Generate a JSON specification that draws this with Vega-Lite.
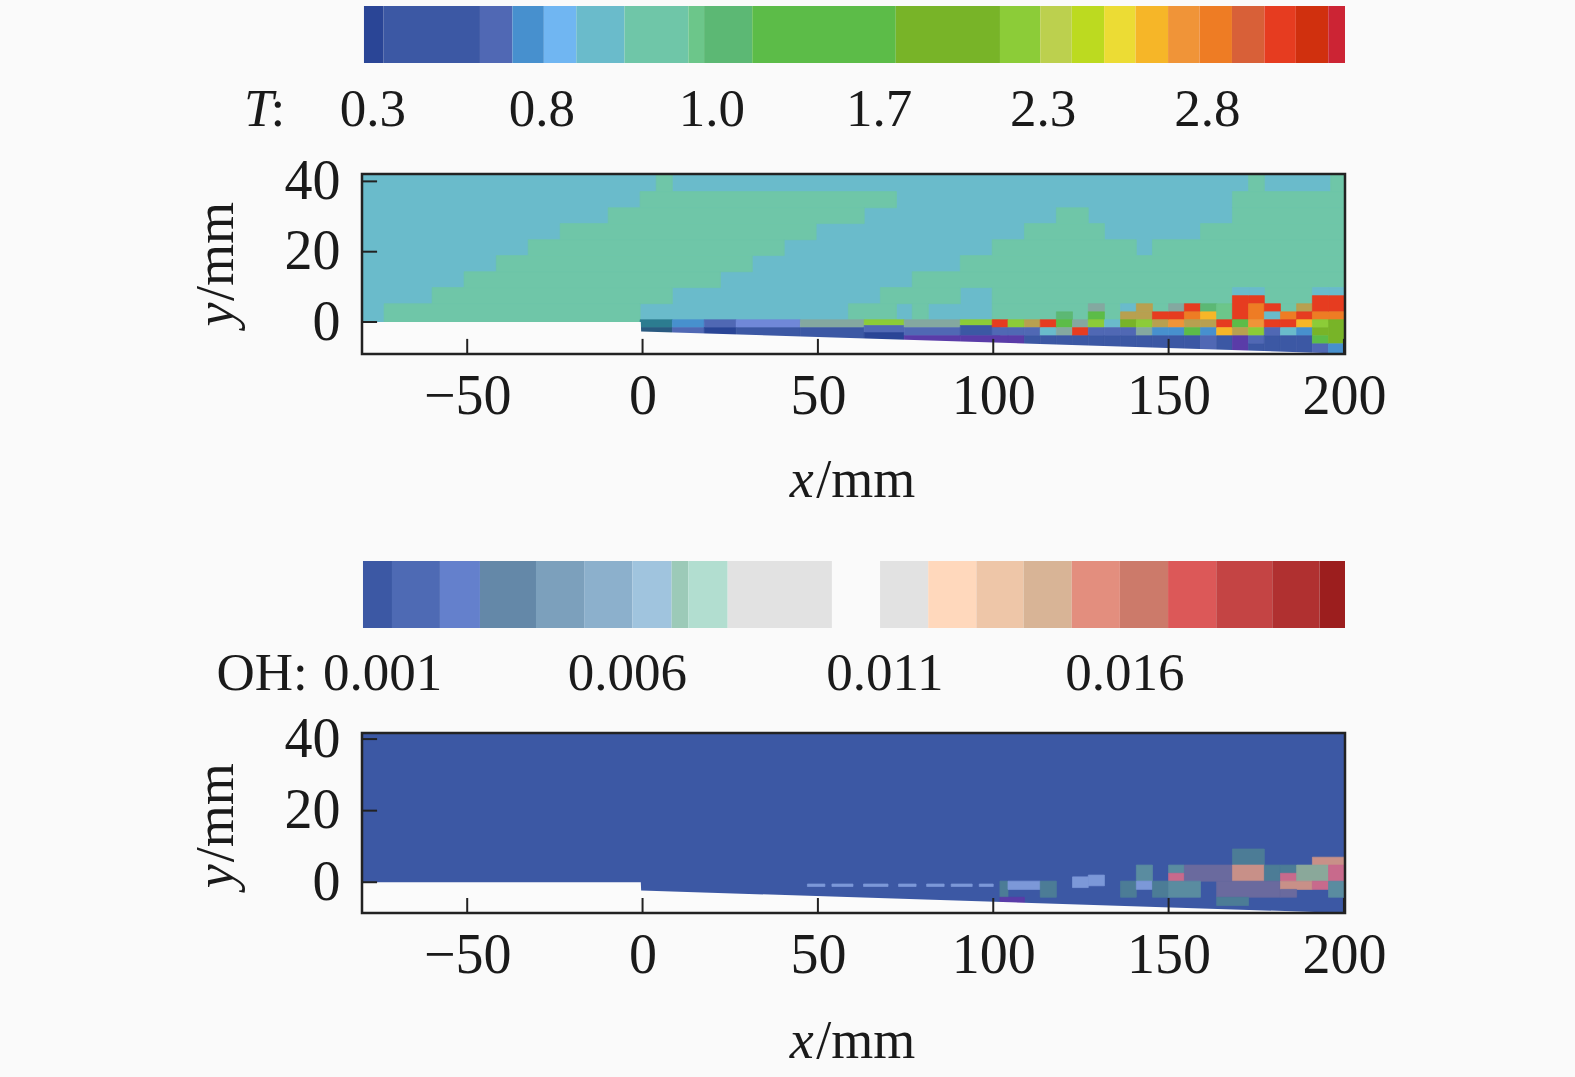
{"$schema":"https://vega.github.io/schema/vega-lite/v6.json","background":"#fafafa","padding":{"left":190,"top":6,"right":195,"bottom":12},"spacing":53,"resolve":{"scale":{"color":"independent","stroke":"independent"}},"config":{"view":{"stroke":null},"text":{"font":"Liberation Serif"},"axis":{"grid":false,"domain":false,"ticks":false,"title":null,"labelFont":"Liberation Serif","labelFontSize":56,"labelColor":"#1a1a1a","zindex":1,"labelFlush":false,"labelOverlap":false,"labelBound":false}},"datasets":{"Tbar":[{"start":0.2,"end":2.2,"level":"1"},{"start":2.2,"end":12,"level":"2"},{"start":12,"end":15.3,"level":"3"},{"start":15.3,"end":18.5,"level":"4"},{"start":18.5,"end":21.8,"level":"5"},{"start":21.8,"end":26.7,"level":"6"},{"start":26.7,"end":33.2,"level":"7"},{"start":33.2,"end":34.8,"level":"8"},{"start":34.8,"end":39.7,"level":"9"},{"start":39.7,"end":54.3,"level":"10"},{"start":54.3,"end":64.9,"level":"11"},{"start":64.9,"end":69,"level":"12"},{"start":69,"end":72.2,"level":"13"},{"start":72.2,"end":75.5,"level":"14"},{"start":75.5,"end":78.7,"level":"15"},{"start":78.7,"end":82,"level":"16"},{"start":82,"end":85.2,"level":"17"},{"start":85.2,"end":88.5,"level":"18"},{"start":88.5,"end":91.8,"level":"19"},{"start":91.8,"end":95,"level":"20"},{"start":95,"end":98.3,"level":"21"},{"start":98.3,"end":100,"level":"22"}],"Obar":[{"start":0.1,"end":3.05,"level":"1"},{"start":3.05,"end":7.93,"level":"2"},{"start":7.93,"end":12,"level":"3"},{"start":12,"end":17.7,"level":"4"},{"start":17.7,"end":22.6,"level":"5"},{"start":22.6,"end":27.5,"level":"6"},{"start":27.5,"end":31.5,"level":"7"},{"start":31.5,"end":33.2,"level":"8"},{"start":33.2,"end":37.2,"level":"9"},{"start":37.2,"end":47.8,"level":"10"},{"start":52.7,"end":57.6,"level":"10"},{"start":57.6,"end":62.5,"level":"11"},{"start":62.5,"end":67.3,"level":"12"},{"start":67.3,"end":72.2,"level":"13"},{"start":72.2,"end":77.1,"level":"14"},{"start":77.1,"end":82,"level":"15"},{"start":82,"end":86.9,"level":"16"},{"start":86.9,"end":92.6,"level":"17"},{"start":92.6,"end":97.4,"level":"18"},{"start":97.4,"end":100,"level":"19"}],"Tcells":[{"x0":-80,"x1":200.3,"y0":0,"y1":42,"level":"6"},{"x0":3.9,"x1":8.5,"y0":37.1,"y1":42,"level":"7"},{"x0":172.8,"x1":177.3,"y0":37.1,"y1":42,"level":"7"},{"x0":196.2,"x1":200.3,"y0":37.1,"y1":42,"level":"7"},{"x0":-0.7,"x1":72.4,"y0":32.5,"y1":37.1,"level":"7"},{"x0":168.2,"x1":200.3,"y0":32.5,"y1":37.1,"level":"7"},{"x0":-9.8,"x1":63.2,"y0":28,"y1":32.5,"level":"7"},{"x0":118,"x1":127.1,"y0":28,"y1":32.5,"level":"7"},{"x0":168.2,"x1":200.3,"y0":28,"y1":32.5,"level":"7"},{"x0":-23.5,"x1":49.5,"y0":23.4,"y1":28,"level":"7"},{"x0":108.9,"x1":131.7,"y0":23.4,"y1":28,"level":"7"},{"x0":159.1,"x1":200.3,"y0":23.4,"y1":28,"level":"7"},{"x0":-32.6,"x1":40.4,"y0":18.9,"y1":23.4,"level":"7"},{"x0":99.7,"x1":140.8,"y0":18.9,"y1":23.4,"level":"7"},{"x0":145.4,"x1":200.3,"y0":18.9,"y1":23.4,"level":"7"},{"x0":-41.7,"x1":31.3,"y0":14.3,"y1":18.9,"level":"7"},{"x0":90.6,"x1":200.3,"y0":14.3,"y1":18.9,"level":"7"},{"x0":-50.9,"x1":22.2,"y0":9.8,"y1":14.3,"level":"7"},{"x0":76.9,"x1":200.3,"y0":9.8,"y1":14.3,"level":"7"},{"x0":-60,"x1":8.5,"y0":5.2,"y1":9.8,"level":"7"},{"x0":67.8,"x1":90.6,"y0":5.2,"y1":9.8,"level":"7"},{"x0":99.7,"x1":200.3,"y0":5.2,"y1":9.8,"level":"7"},{"x0":-73.7,"x1":-0.7,"y0":0,"y1":5.2,"level":"7"},{"x0":58.7,"x1":72.4,"y0":0,"y1":5.2,"level":"7"},{"x0":76.9,"x1":81.5,"y0":0,"y1":5.2,"level":"7"},{"x0":99.7,"x1":200.3,"y0":0,"y1":5.2,"level":"7"},{"x0":-0.7,"x1":8.5,"y0":-1.6,"y1":0.65,"level":"a"},{"x0":-0.7,"x1":8.5,"y0":-9,"y1":-1.6,"level":"f"},{"x0":8.5,"x1":17.6,"y0":-1.6,"y1":0.65,"level":"4"},{"x0":8.5,"x1":17.6,"y0":-9,"y1":-1.6,"level":"3"},{"x0":17.6,"x1":26.7,"y0":-1.6,"y1":0.65,"level":"3"},{"x0":17.6,"x1":26.7,"y0":-9,"y1":-1.6,"level":"1"},{"x0":26.7,"x1":45,"y0":-1.6,"y1":0.65,"level":"e"},{"x0":26.7,"x1":45,"y0":-9,"y1":-1.6,"level":"2"},{"x0":45,"x1":63.2,"y0":-1.6,"y1":0.65,"level":"b"},{"x0":45,"x1":63.2,"y0":-9,"y1":-1.6,"level":"2"},{"x0":63.2,"x1":74.6,"y0":-1,"y1":0.65,"level":"12"},{"x0":63.2,"x1":74.6,"y0":-3,"y1":-1,"level":"3"},{"x0":63.2,"x1":74.6,"y0":-9,"y1":-3,"level":"1"},{"x0":74.6,"x1":90.6,"y0":-1.6,"y1":0.65,"level":"b"},{"x0":74.6,"x1":90.6,"y0":-3.9,"y1":-1.6,"level":"3"},{"x0":74.6,"x1":90.6,"y0":-9,"y1":-3.9,"level":"c"},{"x0":90.6,"x1":101.9,"y0":-1,"y1":0.65,"level":"12"},{"x0":90.6,"x1":101.9,"y0":-3.9,"y1":-1,"level":"2"},{"x0":90.6,"x1":101.9,"y0":-9,"y1":-3.9,"level":"c"},{"x0":99.7,"x1":104.2,"y0":-1.6,"y1":0.65,"level":"20"},{"x0":99.7,"x1":104.2,"y0":-3.9,"y1":-1.6,"level":"3"},{"x0":99.7,"x1":104.2,"y0":-9,"y1":-3.9,"level":"c"},{"x0":104.2,"x1":108.9,"y0":-1.6,"y1":0.65,"level":"12"},{"x0":104.2,"x1":108.9,"y0":-3.9,"y1":-1.6,"level":"3"},{"x0":104.2,"x1":108.9,"y0":-9,"y1":-3.9,"level":"c"},{"x0":108.9,"x1":113.4,"y0":-1.6,"y1":0.65,"level":"d"},{"x0":108.9,"x1":113.4,"y0":-3.9,"y1":-1.6,"level":"3"},{"x0":108.9,"x1":113.4,"y0":-9,"y1":-3.9,"level":"2"},{"x0":113.4,"x1":118,"y0":-1.6,"y1":0.65,"level":"20"},{"x0":113.4,"x1":118,"y0":-3.9,"y1":-1.6,"level":"6"},{"x0":113.4,"x1":118,"y0":-9,"y1":-3.9,"level":"2"},{"x0":118,"x1":122.6,"y0":0.65,"y1":2.9,"level":"9"},{"x0":118,"x1":122.6,"y0":-1.6,"y1":0.65,"level":"10"},{"x0":118,"x1":122.6,"y0":-3.9,"y1":-1.6,"level":"b"},{"x0":118,"x1":122.6,"y0":-9,"y1":-3.9,"level":"2"},{"x0":122.6,"x1":127.1,"y0":-1.6,"y1":0.65,"level":"b"},{"x0":122.6,"x1":127.1,"y0":-3.9,"y1":-1.6,"level":"20"},{"x0":122.6,"x1":127.1,"y0":-9,"y1":-3.9,"level":"2"},{"x0":127.1,"x1":131.7,"y0":2.9,"y1":5.2,"level":"b"},{"x0":127.1,"x1":131.7,"y0":0.65,"y1":2.9,"level":"10"},{"x0":127.1,"x1":131.7,"y0":-1.6,"y1":0.65,"level":"12"},{"x0":127.1,"x1":131.7,"y0":-3.9,"y1":-1.6,"level":"3"},{"x0":127.1,"x1":131.7,"y0":-9,"y1":-3.9,"level":"2"},{"x0":131.7,"x1":136.3,"y0":-1.6,"y1":0.65,"level":"6"},{"x0":131.7,"x1":136.3,"y0":-3.9,"y1":-1.6,"level":"3"},{"x0":131.7,"x1":136.3,"y0":-9,"y1":-3.9,"level":"2"},{"x0":136.3,"x1":140.8,"y0":2.9,"y1":5.2,"level":"6"},{"x0":136.3,"x1":140.8,"y0":0.65,"y1":2.9,"level":"d"},{"x0":136.3,"x1":140.8,"y0":-1.6,"y1":0.65,"level":"11"},{"x0":136.3,"x1":140.8,"y0":-3.9,"y1":-1.6,"level":"3"},{"x0":136.3,"x1":140.8,"y0":-9,"y1":-3.9,"level":"2"},{"x0":140.8,"x1":145.4,"y0":2.9,"y1":5.2,"level":"d"},{"x0":140.8,"x1":145.4,"y0":0.65,"y1":2.9,"level":"d"},{"x0":140.8,"x1":145.4,"y0":-1.6,"y1":0.65,"level":"12"},{"x0":140.8,"x1":145.4,"y0":-3.9,"y1":-1.6,"level":"b"},{"x0":140.8,"x1":145.4,"y0":-9,"y1":-3.9,"level":"2"},{"x0":145.4,"x1":150,"y0":0.65,"y1":2.9,"level":"20"},{"x0":145.4,"x1":150,"y0":-1.6,"y1":0.65,"level":"d"},{"x0":145.4,"x1":150,"y0":-3.9,"y1":-1.6,"level":"4"},{"x0":145.4,"x1":150,"y0":-9,"y1":-3.9,"level":"2"},{"x0":150,"x1":154.5,"y0":2.9,"y1":5.2,"level":"b"},{"x0":150,"x1":154.5,"y0":0.65,"y1":2.9,"level":"20"},{"x0":150,"x1":154.5,"y0":-1.6,"y1":0.65,"level":"17"},{"x0":150,"x1":154.5,"y0":-3.9,"y1":-1.6,"level":"4"},{"x0":150,"x1":154.5,"y0":-9,"y1":-3.9,"level":"2"},{"x0":154.5,"x1":159.1,"y0":2.9,"y1":5.2,"level":"20"},{"x0":154.5,"x1":159.1,"y0":0.65,"y1":2.9,"level":"18"},{"x0":154.5,"x1":159.1,"y0":-1.6,"y1":0.65,"level":"d"},{"x0":154.5,"x1":159.1,"y0":-3.9,"y1":-1.6,"level":"10"},{"x0":154.5,"x1":159.1,"y0":-9,"y1":-3.9,"level":"2"},{"x0":159.1,"x1":163.7,"y0":2.9,"y1":5.2,"level":"9"},{"x0":159.1,"x1":163.7,"y0":0.65,"y1":2.9,"level":"16"},{"x0":159.1,"x1":163.7,"y0":-1.6,"y1":0.65,"level":"d"},{"x0":159.1,"x1":163.7,"y0":-3.9,"y1":-1.6,"level":"4"},{"x0":159.1,"x1":163.7,"y0":-9,"y1":-3.9,"level":"3"},{"x0":163.7,"x1":168.2,"y0":0.65,"y1":5.2,"level":"8"},{"x0":163.7,"x1":168.2,"y0":-1.6,"y1":0.65,"level":"20"},{"x0":163.7,"x1":168.2,"y0":-3.9,"y1":-1.6,"level":"16"},{"x0":163.7,"x1":168.2,"y0":-9,"y1":-3.9,"level":"2"},{"x0":168.2,"x1":172.8,"y0":7.5,"y1":9.8,"level":"6"},{"x0":168.2,"x1":172.8,"y0":0.65,"y1":7.5,"level":"20"},{"x0":168.2,"x1":172.8,"y0":-1.6,"y1":0.65,"level":"10"},{"x0":168.2,"x1":172.8,"y0":-3.9,"y1":-1.6,"level":"d"},{"x0":168.2,"x1":172.8,"y0":-9,"y1":-3.9,"level":"c"},{"x0":172.8,"x1":177.3,"y0":7.5,"y1":9.8,"level":"6"},{"x0":172.8,"x1":177.3,"y0":5.2,"y1":7.5,"level":"20"},{"x0":172.8,"x1":177.3,"y0":0.65,"y1":5.2,"level":"18"},{"x0":172.8,"x1":177.3,"y0":-1.6,"y1":0.65,"level":"17"},{"x0":172.8,"x1":177.3,"y0":-3.9,"y1":-1.6,"level":"12"},{"x0":172.8,"x1":177.3,"y0":-6.2,"y1":-3.9,"level":"3"},{"x0":172.8,"x1":177.3,"y0":-9,"y1":-6.2,"level":"2"},{"x0":177.3,"x1":181.9,"y0":2.9,"y1":5.2,"level":"20"},{"x0":177.3,"x1":181.9,"y0":0.65,"y1":2.9,"level":"6"},{"x0":177.3,"x1":181.9,"y0":-1.6,"y1":0.65,"level":"20"},{"x0":177.3,"x1":181.9,"y0":-3.9,"y1":-1.6,"level":"3"},{"x0":177.3,"x1":181.9,"y0":-9,"y1":-3.9,"level":"2"},{"x0":181.9,"x1":186.5,"y0":0.65,"y1":2.9,"level":"18"},{"x0":181.9,"x1":186.5,"y0":-1.6,"y1":0.65,"level":"20"},{"x0":181.9,"x1":186.5,"y0":-3.9,"y1":-1.6,"level":"6"},{"x0":181.9,"x1":186.5,"y0":-9,"y1":-3.9,"level":"2"},{"x0":186.5,"x1":191,"y0":2.9,"y1":5.2,"level":"d"},{"x0":186.5,"x1":191,"y0":0.65,"y1":2.9,"level":"20"},{"x0":186.5,"x1":191,"y0":-1.6,"y1":0.65,"level":"16"},{"x0":186.5,"x1":191,"y0":-3.9,"y1":-1.6,"level":"4"},{"x0":186.5,"x1":191,"y0":-9,"y1":-3.9,"level":"2"},{"x0":191,"x1":195.6,"y0":7.5,"y1":9.8,"level":"6"},{"x0":191,"x1":195.6,"y0":2.9,"y1":7.5,"level":"20"},{"x0":191,"x1":195.6,"y0":0.65,"y1":2.9,"level":"18"},{"x0":191,"x1":195.6,"y0":-1.6,"y1":0.65,"level":"12"},{"x0":191,"x1":195.6,"y0":-3.9,"y1":-1.6,"level":"11"},{"x0":191,"x1":195.6,"y0":-6.2,"y1":-3.9,"level":"10"},{"x0":191,"x1":195.6,"y0":-9,"y1":-6.2,"level":"3"},{"x0":195.6,"x1":200.3,"y0":7.5,"y1":9.8,"level":"6"},{"x0":195.6,"x1":200.3,"y0":2.9,"y1":7.5,"level":"20"},{"x0":195.6,"x1":200.3,"y0":0.65,"y1":2.9,"level":"18"},{"x0":195.6,"x1":200.3,"y0":-6.2,"y1":0.65,"level":"11"},{"x0":195.6,"x1":200.3,"y0":-9,"y1":-6.2,"level":"4"}],"Ocells":[{"x0":-80,"x1":200.3,"y0":-8.6,"y1":41.7,"level":"1"},{"x0":47,"x1":52,"y0":-1.2,"y1":-0.5,"level":"g"},{"x0":54,"x1":60,"y0":-1.2,"y1":-0.5,"level":"g"},{"x0":63,"x1":70,"y0":-1.2,"y1":-0.5,"level":"g"},{"x0":73,"x1":78,"y0":-1.2,"y1":-0.5,"level":"g"},{"x0":81,"x1":86,"y0":-1.2,"y1":-0.5,"level":"g"},{"x0":88,"x1":94,"y0":-1.2,"y1":-0.5,"level":"g"},{"x0":96,"x1":100,"y0":-1.2,"y1":-0.5,"level":"g"},{"x0":168.2,"x1":177.3,"y0":4.8,"y1":9.3,"level":"h"},{"x0":191,"x1":200.3,"y0":4.8,"y1":7,"level":"d"},{"x0":140.8,"x1":145.4,"y0":0.3,"y1":4.8,"level":"e"},{"x0":150,"x1":154.5,"y0":2.5,"y1":4.8,"level":"e"},{"x0":150,"x1":154.5,"y0":0.3,"y1":2.5,"level":"c"},{"x0":154.5,"x1":168.2,"y0":0.3,"y1":4.8,"level":"a"},{"x0":168.2,"x1":177.3,"y0":0.3,"y1":4.8,"level":"d"},{"x0":177.3,"x1":181.9,"y0":0.3,"y1":4.8,"level":"h"},{"x0":181.9,"x1":186.5,"y0":2.5,"y1":4.8,"level":"h"},{"x0":181.9,"x1":186.5,"y0":0.3,"y1":2.5,"level":"c"},{"x0":186.5,"x1":195.6,"y0":0.3,"y1":4.8,"level":"f"},{"x0":195.6,"x1":200.3,"y0":0.3,"y1":4.8,"level":"c"},{"x0":101.9,"x1":104.2,"y0":-4.2,"y1":0.3,"level":"h"},{"x0":104.2,"x1":113.4,"y0":-2,"y1":0.3,"level":"g"},{"x0":113.4,"x1":118,"y0":-4.2,"y1":0.3,"level":"h"},{"x0":122.6,"x1":127.1,"y0":-1.5,"y1":1.5,"level":"g"},{"x0":127.1,"x1":131.7,"y0":-1,"y1":2,"level":"g"},{"x0":136.3,"x1":140.8,"y0":-4.2,"y1":0.3,"level":"h"},{"x0":140.8,"x1":145.4,"y0":-2,"y1":0.3,"level":"g"},{"x0":145.4,"x1":150,"y0":-4.2,"y1":0.3,"level":"h"},{"x0":150,"x1":159.1,"y0":-4.2,"y1":0.3,"level":"e"},{"x0":163.7,"x1":181.9,"y0":-4.2,"y1":0.3,"level":"a"},{"x0":181.9,"x1":191,"y0":-2,"y1":0.3,"level":"d"},{"x0":181.9,"x1":186.5,"y0":-4.2,"y1":-2,"level":"a"},{"x0":191,"x1":195.6,"y0":-2,"y1":0.3,"level":"c"},{"x0":195.6,"x1":200.3,"y0":-4.2,"y1":0.3,"level":"e"},{"x0":163.7,"x1":172.8,"y0":-6.5,"y1":-4.2,"level":"h"},{"x0":101.9,"x1":108.9,"y0":-6.5,"y1":-4.2,"level":"i"}]},"vconcat":[{"bounds":"flush","spacing":111,"vconcat":[{"width":983,"height":57,"layer":[{"data":{"name":"Tbar"},"mark":"rect","encoding":{"x":{"field":"start","type":"quantitative","scale":{"domain":[0,100]},"axis":null},"x2":{"field":"end"},"y":{"datum":0,"type":"quantitative","scale":{"domain":[0,1]},"axis":null},"y2":{"datum":1},"color":{"field":"level","type":"nominal","legend":null,"scale":{"domain":["1","2","3","4","5","6","7","8","9","10","11","12","13","14","15","16","17","18","19","20","21","22","a","b","c","d","e","f"],"range":["#2A4596","#3C58A4","#5068B4","#4790CE","#70B6F2","#6ABBCB","#6FC6A8","#6CC68A","#5CB874","#5CBC48","#78B428","#8CCC38","#BCD04E","#BCDA20","#ECDC34","#F6B628","#F09438","#EE7C24","#D86038","#E63C20","#D0300E","#CC2434","#2C7C90","#84A8A0","#5A3CA8","#B8A050","#7088D8","#2A5A80"]}}}},{"data":{"values":[{"start":1.1,"label":"0.3"},{"start":18.3,"label":"0.8"},{"start":35.6,"label":"1.0"},{"start":52.6,"label":"1.7"},{"start":69.3,"label":"2.3"},{"start":86,"label":"2.8"}]},"mark":{"type":"text","fontSize":53,"color":"#1a1a1a","baseline":"alphabetic","align":"center"},"encoding":{"x":{"field":"start","type":"quantitative","axis":null},"y":{"datum":-1.1,"type":"quantitative","axis":null},"text":{"field":"label"}}},{"data":{"values":[{"start":-12,"label":"T"}]},"mark":{"type":"text","fontSize":53,"fontStyle":"italic","color":"#1a1a1a","baseline":"alphabetic","align":"left"},"encoding":{"x":{"field":"start","type":"quantitative","axis":null},"y":{"datum":-1.1,"type":"quantitative","axis":null},"text":{"field":"label"}}},{"data":{"values":[{"start":-9.3,"label":":"}]},"mark":{"type":"text","fontSize":53,"color":"#1a1a1a","baseline":"alphabetic","align":"left"},"encoding":{"x":{"field":"start","type":"quantitative","axis":null},"y":{"datum":-1.1,"type":"quantitative","axis":null},"text":{"field":"label"}}}]},{"width":983,"height":180,"encoding":{"x":{"field":"x0","type":"quantitative","scale":{"domain":[-80,200.3],"nice":false,"zero":false},"axis":{"values":[-50,0,50,100,150,200],"labelPadding":15}},"y":{"field":"y0","type":"quantitative","scale":{"domain":[-9.1,42.1],"nice":false,"zero":false},"axis":{"values":[0,20,40],"labelPadding":22}}},"layer":[{"data":{"name":"Tcells"},"mark":{"type":"rect","strokeWidth":0.7},"encoding":{"x2":{"field":"x1"},"y2":{"field":"y1"},"color":{"field":"level","type":"nominal","legend":null,"scale":{"domain":["1","2","3","4","5","6","7","8","9","10","11","12","13","14","15","16","17","18","19","20","21","22","a","b","c","d","e","f"],"range":["#2A4596","#3C58A4","#5068B4","#4790CE","#70B6F2","#6ABBCB","#6FC6A8","#6CC68A","#5CB874","#5CBC48","#78B428","#8CCC38","#BCD04E","#BCDA20","#ECDC34","#F6B628","#F09438","#EE7C24","#D86038","#E63C20","#D0300E","#CC2434","#2C7C90","#84A8A0","#5A3CA8","#B8A050","#7088D8","#2A5A80"]}},"stroke":{"field":"level","type":"nominal","legend":null,"scale":{"domain":["1","2","3","4","5","6","7","8","9","10","11","12","13","14","15","16","17","18","19","20","21","22","a","b","c","d","e","f"],"range":["#2A4596","#3C58A4","#5068B4","#4790CE","#70B6F2","#6ABBCB","#6FC6A8","#6CC68A","#5CB874","#5CBC48","#78B428","#8CCC38","#BCD04E","#BCDA20","#ECDC34","#F6B628","#F09438","#EE7C24","#D86038","#E63C20","#D0300E","#CC2434","#2C7C90","#84A8A0","#5A3CA8","#B8A050","#7088D8","#2A5A80"]}}}},{"data":{"values":[{"x0":-80,"y0":0,"y1":-9.1},{"x0":-0.5,"y0":0,"y1":-9.1},{"x0":-0.4,"y0":-2.7,"y1":-9.1},{"x0":200.3,"y0":-9,"y1":-9.1}]},"mark":{"type":"area","color":"#fbfbfb"},"encoding":{"y2":{"field":"y1"}}},{"data":{"values":[{"x0":-50,"y0":-9.1,"y1":-4.8},{"x0":0,"y0":-9.1,"y1":-4.8},{"x0":50,"y0":-9.1,"y1":-4.8},{"x0":100,"y0":-9.1,"y1":-4.8},{"x0":150,"y0":-9.1,"y1":-4.8},{"x0":200,"y0":-9.1,"y1":-4.8}]},"mark":{"type":"rule","color":"#222222","strokeWidth":2},"encoding":{"y2":{"field":"y1"}}},{"data":{"values":[{"x0":-80,"x1":-75.7,"y0":0},{"x0":-80,"x1":-75.7,"y0":20},{"x0":-80,"x1":-75.7,"y0":40}]},"mark":{"type":"rule","color":"#222222","strokeWidth":2},"encoding":{"x2":{"field":"x1"}}},{"data":{"values":[{"x0":-80,"x1":200.3,"y0":-9.1,"y1":42.1}]},"mark":{"type":"rect","filled":false,"stroke":"#222222","strokeWidth":2.5},"encoding":{"x2":{"field":"x1"},"y2":{"field":"y1"}}},{"data":{"values":[{"x0":42,"y0":-49.7,"label":"x"}]},"mark":{"type":"text","fontSize":54,"fontStyle":"italic","color":"#1a1a1a","baseline":"alphabetic","align":"left"},"encoding":{"text":{"field":"label"}}},{"data":{"values":[{"x0":49.5,"y0":-49.7,"label":"/mm"}]},"mark":{"type":"text","fontSize":54,"color":"#1a1a1a","baseline":"alphabetic","align":"left"},"encoding":{"text":{"field":"label"}}},{"data":{"values":[{"x0":-116.7,"y0":-1.3,"label":"y"}]},"mark":{"type":"text","fontSize":54,"fontStyle":"italic","color":"#1a1a1a","baseline":"alphabetic","align":"left","angle":270},"encoding":{"text":{"field":"label"}}},{"data":{"values":[{"x0":-116.7,"y0":6,"label":"/mm"}]},"mark":{"type":"text","fontSize":54,"color":"#1a1a1a","baseline":"alphabetic","align":"left","angle":270},"encoding":{"text":{"field":"label"}}}]}]},{"bounds":"flush","spacing":105,"vconcat":[{"width":983,"height":67,"layer":[{"data":{"name":"Obar"},"mark":"rect","encoding":{"x":{"field":"start","type":"quantitative","scale":{"domain":[0,100]},"axis":null},"x2":{"field":"end"},"y":{"datum":0,"type":"quantitative","scale":{"domain":[0,1]},"axis":null},"y2":{"datum":1},"color":{"field":"level","type":"nominal","legend":null,"scale":{"domain":["1","2","3","4","5","6","7","8","9","10","11","12","13","14","15","16","17","18","19","a","b","c","d","e","f","g","h","i"],"range":["#3C58A4","#4E6AB4","#6480CC","#6488A8","#7CA0BC","#8CB0CC","#A0C4DE","#9CCAB8","#B2DED0","#E2E2E2","#FFD8BC","#EEC6A8","#D8B496","#E38E7E","#CC7A6A","#DC5858","#C44444","#B03030","#9C1E1E","#6A6A9E","#8080B0","#C86A8C","#C89088","#5A8CA0","#8AA89A","#7C98D8","#4C7C96","#5A3CA8"]}}}},{"data":{"values":[{"start":2.1,"label":"0.001"},{"start":27,"label":"0.006"},{"start":53.2,"label":"0.011"},{"start":77.6,"label":"0.016"}]},"mark":{"type":"text","fontSize":53,"color":"#1a1a1a","baseline":"alphabetic","align":"center"},"encoding":{"x":{"field":"start","type":"quantitative","axis":null},"y":{"datum":-0.925,"type":"quantitative","axis":null},"text":{"field":"label"}}},{"data":{"values":[{"start":-14.8,"label":"OH:"}]},"mark":{"type":"text","fontSize":53,"color":"#1a1a1a","baseline":"alphabetic","align":"left"},"encoding":{"x":{"field":"start","type":"quantitative","axis":null},"y":{"datum":-0.925,"type":"quantitative","axis":null},"text":{"field":"label"}}}]},{"width":983,"height":180,"encoding":{"x":{"field":"x0","type":"quantitative","scale":{"domain":[-80,200.3],"nice":false,"zero":false},"axis":{"values":[-50,0,50,100,150,200],"labelPadding":15}},"y":{"field":"y0","type":"quantitative","scale":{"domain":[-8.6,41.7],"nice":false,"zero":false},"axis":{"values":[0,20,40],"labelPadding":22}}},"layer":[{"data":{"name":"Ocells"},"mark":{"type":"rect","strokeWidth":0.7},"encoding":{"x2":{"field":"x1"},"y2":{"field":"y1"},"color":{"field":"level","type":"nominal","legend":null,"scale":{"domain":["1","2","3","4","5","6","7","8","9","10","11","12","13","14","15","16","17","18","19","a","b","c","d","e","f","g","h","i"],"range":["#3C58A4","#4E6AB4","#6480CC","#6488A8","#7CA0BC","#8CB0CC","#A0C4DE","#9CCAB8","#B2DED0","#E2E2E2","#FFD8BC","#EEC6A8","#D8B496","#E38E7E","#CC7A6A","#DC5858","#C44444","#B03030","#9C1E1E","#6A6A9E","#8080B0","#C86A8C","#C89088","#5A8CA0","#8AA89A","#7C98D8","#4C7C96","#5A3CA8"]}},"stroke":{"field":"level","type":"nominal","legend":null,"scale":{"domain":["1","2","3","4","5","6","7","8","9","10","11","12","13","14","15","16","17","18","19","a","b","c","d","e","f","g","h","i"],"range":["#3C58A4","#4E6AB4","#6480CC","#6488A8","#7CA0BC","#8CB0CC","#A0C4DE","#9CCAB8","#B2DED0","#E2E2E2","#FFD8BC","#EEC6A8","#D8B496","#E38E7E","#CC7A6A","#DC5858","#C44444","#B03030","#9C1E1E","#6A6A9E","#8080B0","#C86A8C","#C89088","#5A8CA0","#8AA89A","#7C98D8","#4C7C96","#5A3CA8"]}}}},{"data":{"values":[{"x0":-80,"y0":0,"y1":-8.6},{"x0":-0.5,"y0":0,"y1":-8.6},{"x0":-0.4,"y0":-2.3,"y1":-8.6},{"x0":200.3,"y0":-8.6,"y1":-8.6}]},"mark":{"type":"area","color":"#fbfbfb"},"encoding":{"y2":{"field":"y1"}}},{"data":{"values":[{"x0":-50,"y0":-8.6,"y1":-4.4},{"x0":0,"y0":-8.6,"y1":-4.4},{"x0":50,"y0":-8.6,"y1":-4.4},{"x0":100,"y0":-8.6,"y1":-4.4},{"x0":150,"y0":-8.6,"y1":-4.4},{"x0":200,"y0":-8.6,"y1":-4.4}]},"mark":{"type":"rule","color":"#222222","strokeWidth":2},"encoding":{"y2":{"field":"y1"}}},{"data":{"values":[{"x0":-80,"x1":-75.7,"y0":0},{"x0":-80,"x1":-75.7,"y0":20},{"x0":-80,"x1":-75.7,"y0":40}]},"mark":{"type":"rule","color":"#222222","strokeWidth":2},"encoding":{"x2":{"field":"x1"}}},{"data":{"values":[{"x0":-80,"x1":200.3,"y0":-8.6,"y1":41.7}]},"mark":{"type":"rect","filled":false,"stroke":"#222222","strokeWidth":2.5},"encoding":{"x2":{"field":"x1"},"y2":{"field":"y1"}}},{"data":{"values":[{"x0":42,"y0":-49,"label":"x"}]},"mark":{"type":"text","fontSize":54,"fontStyle":"italic","color":"#1a1a1a","baseline":"alphabetic","align":"left"},"encoding":{"text":{"field":"label"}}},{"data":{"values":[{"x0":49.5,"y0":-49,"label":"/mm"}]},"mark":{"type":"text","fontSize":54,"color":"#1a1a1a","baseline":"alphabetic","align":"left"},"encoding":{"text":{"field":"label"}}},{"data":{"values":[{"x0":-116.7,"y0":-1.7,"label":"y"}]},"mark":{"type":"text","fontSize":54,"fontStyle":"italic","color":"#1a1a1a","baseline":"alphabetic","align":"left","angle":270},"encoding":{"text":{"field":"label"}}},{"data":{"values":[{"x0":-116.7,"y0":5.6,"label":"/mm"}]},"mark":{"type":"text","fontSize":54,"color":"#1a1a1a","baseline":"alphabetic","align":"left","angle":270},"encoding":{"text":{"field":"label"}}}]}]}]}
